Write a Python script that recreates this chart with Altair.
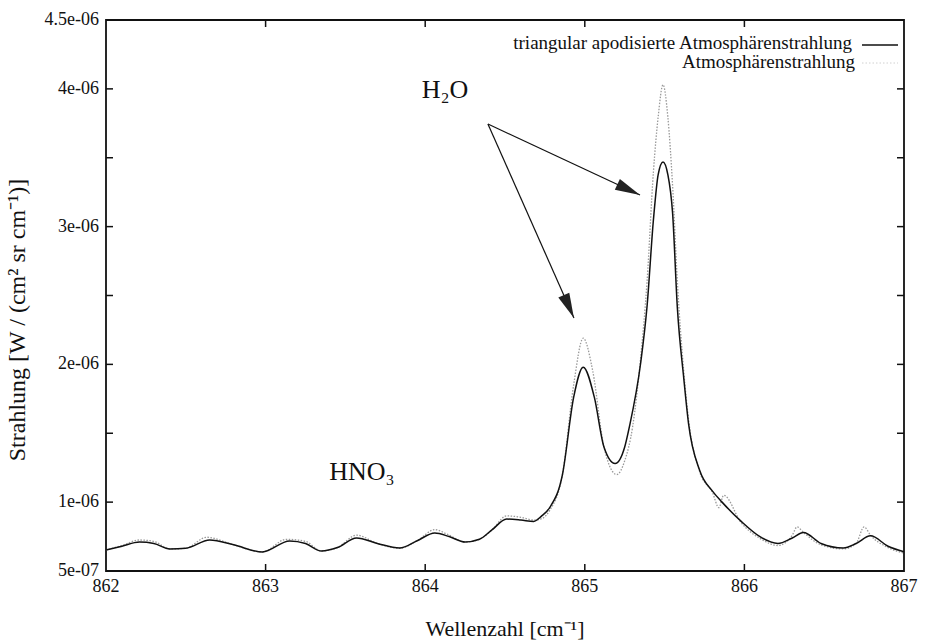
import altair as alt
import pandas as pd

# ---------------- data (radiance in units of 1e-6 W/(cm2 sr cm-1)) ----------------
wn_apod = [862.00, 862.10, 862.21, 862.30, 862.40, 862.50, 862.65, 862.80, 862.98,
           863.15, 863.25, 863.35, 863.45, 863.57, 863.70, 863.84, 863.95, 864.06,
           864.15, 864.25, 864.34, 864.42, 864.51, 864.60, 864.68, 864.73, 864.78,
           864.86, 864.93, 864.99, 865.06, 865.12, 865.19, 865.25, 865.28, 865.35,
           865.39, 865.43, 865.46, 865.49, 865.52, 865.55, 865.58, 865.62, 865.65,
           865.72, 865.80, 865.86, 865.98, 866.10, 866.21, 866.30, 866.37, 866.48,
           866.62, 866.70, 866.79, 866.90, 867.00]
rad_apod = [0.652, 0.68, 0.71, 0.70, 0.66, 0.665, 0.725, 0.69, 0.638,
            0.718, 0.70, 0.645, 0.67, 0.74, 0.70, 0.667, 0.72, 0.776,
            0.75, 0.71, 0.73, 0.80, 0.877, 0.87, 0.86, 0.90, 0.96,
            1.20, 1.76, 1.98, 1.76, 1.40, 1.28, 1.40, 1.55, 2.01,
            2.42, 3.05, 3.38, 3.47, 3.38, 3.10, 2.41, 1.90, 1.57,
            1.23, 1.08, 1.00, 0.86, 0.747, 0.70, 0.74, 0.78, 0.70,
            0.667, 0.70, 0.755, 0.68, 0.64]

wn_orig = [862.00, 862.10, 862.21, 862.30, 862.40, 862.50, 862.63, 862.80, 862.98,
           863.13, 863.25, 863.35, 863.45, 863.57, 863.70, 863.84, 863.95, 864.06,
           864.15, 864.25, 864.34, 864.42, 864.51, 864.60, 864.68, 864.73, 864.78,
           864.86, 864.93, 864.99, 865.05, 865.12, 865.20, 865.25, 865.30, 865.35,
           865.39, 865.43, 865.46, 865.49, 865.52, 865.55, 865.58, 865.62, 865.65,
           865.72, 865.80, 865.84, 865.87, 865.98, 866.10, 866.21, 866.30, 866.33,
           866.37, 866.48, 866.62, 866.70, 866.75, 866.79, 866.90, 867.00]
rad_orig = [0.652, 0.685, 0.725, 0.715, 0.66, 0.665, 0.745, 0.69, 0.638,
            0.73, 0.715, 0.645, 0.67, 0.76, 0.70, 0.665, 0.72, 0.80,
            0.76, 0.71, 0.73, 0.80, 0.90, 0.89, 0.87, 0.88, 0.94,
            1.20, 1.85, 2.19, 1.95, 1.40, 1.20, 1.30, 1.55, 2.05,
            2.60, 3.40, 3.80, 4.03, 3.80, 3.30, 2.60, 1.95, 1.60,
            1.22, 1.07, 0.96, 1.05, 0.85, 0.735, 0.685, 0.76, 0.82,
            0.78, 0.69, 0.66, 0.70, 0.82, 0.76, 0.67, 0.63]

x_ticks = [862, 863, 864, 865, 866, 867]
x_tick_labels = ["862", "863", "864", "865", "866", "867"]
y_ticks = [5e-7, 1e-6, 1.5e-6, 2e-6, 2.5e-6, 3e-6, 3.5e-6, 4e-6, 4.5e-6]
y_label_values = [5e-7, 1e-6, 2e-6, 3e-6, 4e-6, 4.5e-6]
y_label_texts = ["5e-07", "1e-06", "2e-06", "3e-06", "4e-06", "4.5e-06"]

x_title = "Wellenzahl [cm⁻¹]"
y_title = "Strahlung [W / (cm² sr cm⁻¹)]"
legend_labels = ["triangular apodisierte Atmosphärenstrahlung", "Atmosphärenstrahlung"]

# annotations: label positions and arrows (data coordinates)
ann_labels = ["H₂O", "HNO₃"]
ann_x = [864.124, 863.604]
ann_y = [3.934e-6, 1.16e-6]
arrow_x0 = [864.393, 864.393]
arrow_y0 = [3.745e-6, 3.745e-6]
arrow_x1 = [865.346, 864.932]
arrow_y1 = [3.23e-6, 2.337e-6]
arrow_angle = [115, 156]

# ---------------- build tables ----------------
df_apod = pd.DataFrame({"wn": wn_apod, "rad": [v * 1e-6 for v in rad_apod]})
df_orig = pd.DataFrame({"wn": wn_orig, "rad": [v * 1e-6 for v in rad_orig]})
df_xt = pd.DataFrame({"wn": x_ticks[1:-1]})
df_yt = pd.DataFrame({"rad": y_ticks[1:-1]})
df_xl = pd.DataFrame({"wn": x_ticks, "lab": x_tick_labels})
df_yl = pd.DataFrame({"rad": y_label_values, "lab": y_label_texts})
df_ann = pd.DataFrame({"wn": ann_x, "rad": ann_y, "label": ann_labels})
df_arr = pd.DataFrame({"wn": arrow_x0, "rad": arrow_y0, "wn2": arrow_x1,
                       "rad2": arrow_y1, "ang": arrow_angle})

FONT = "Liberation Serif"
INK = "#111"
W, H = 798, 551

xscale = alt.Scale(domain=[862, 867], nice=False, zero=False)
yscale = alt.Scale(domain=[5e-7, 4.5e-6], nice=False, zero=False)


def xe(field):
    return alt.X(field, type="quantitative", scale=xscale, axis=None)


def ye(field):
    return alt.Y(field, type="quantitative", scale=yscale, axis=None)


orig = alt.Chart(df_orig).mark_line(
    color="#9a9a9a", strokeWidth=1.3, strokeDash=[1.5, 1.5], interpolate="monotone"
).encode(x=xe("wn"), y=ye("rad"))

apod = alt.Chart(df_apod).mark_line(
    color=INK, strokeWidth=1.5, interpolate="monotone"
).encode(x=xe("wn"), y=ye("rad"))

# inward ticks (bottom/top/left/right)
tb = alt.Chart(df_xt).mark_rule(color=INK, strokeWidth=1.5).encode(
    x=xe("wn"), y=alt.value(H), y2=alt.value(H - 7))
tt = alt.Chart(df_xt).mark_rule(color=INK, strokeWidth=1.5).encode(
    x=xe("wn"), y=alt.value(0), y2=alt.value(7))
tl = alt.Chart(df_yt).mark_rule(color=INK, strokeWidth=1.5).encode(
    y=ye("rad"), x=alt.value(0), x2=alt.value(7))
tr = alt.Chart(df_yt).mark_rule(color=INK, strokeWidth=1.5).encode(
    y=ye("rad"), x=alt.value(W), x2=alt.value(W - 7))

# tick labels
xl = alt.Chart(df_xl).mark_text(
    font=FONT, fontSize=18, color=INK, align="center", baseline="top"
).encode(x=xe("wn"), y=alt.value(H + 7), text="lab:N")
yl = alt.Chart(df_yl).mark_text(
    font=FONT, fontSize=18, color=INK, align="right", baseline="middle"
).encode(y=ye("rad"), x=alt.value(-7), text="lab:N")

# axis titles
xt = alt.Chart(pd.DataFrame({"t": [x_title]})).mark_text(
    font=FONT, fontSize=22, color=INK, align="center", baseline="middle"
).encode(x=alt.value(W / 2), y=alt.value(H + 58), text="t:N")
yt = alt.Chart(pd.DataFrame({"t": [y_title]})).mark_text(
    font=FONT, fontSize=24, color=INK, align="center", baseline="middle", angle=270
).encode(x=alt.value(-88), y=alt.value(300), text="t:N")

# annotations
ann = alt.Chart(df_ann).mark_text(
    font=FONT, fontSize=26, color=INK, align="center", baseline="alphabetic"
).encode(x=xe("wn"), y=ye("rad"), text="label:N")

arrow_lines = alt.Chart(df_arr).mark_rule(color=INK, strokeWidth=1.2).encode(
    x=xe("wn"), y=ye("rad"), x2="wn2:Q", y2="rad2:Q")
arrow_heads = alt.Chart(df_arr).mark_point(
    shape="M0,0 L0.24,1 L-0.24,1 Z", filled=True, size=2500, color="#222", opacity=1
).encode(x=xe("wn2"), y=ye("rad2"), angle=alt.Angle("ang:Q", scale=None))

# legend (gnuplot style, top right)
leg1 = alt.Chart(pd.DataFrame({"t": [legend_labels[0]]})).mark_text(
    font=FONT, fontSize=19, color=INK, align="right", baseline="middle"
).encode(x=alt.value(746), y=alt.value(23), text="t:N")
leg2 = alt.Chart(pd.DataFrame({"t": [legend_labels[1]]})).mark_text(
    font=FONT, fontSize=19, color=INK, align="right", baseline="middle"
).encode(x=alt.value(749), y=alt.value(42), text="t:N")
legl1 = alt.Chart(pd.DataFrame({"t": [0]})).mark_rule(color=INK, strokeWidth=1.3).encode(
    x=alt.value(756), x2=alt.value(792), y=alt.value(25))
legl2 = alt.Chart(pd.DataFrame({"t": [0]})).mark_rule(
    color="#d0d0d0", strokeWidth=1.0, strokeDash=[1.5, 2]).encode(
    x=alt.value(756), x2=alt.value(792), y=alt.value(43))

chart = alt.layer(
    orig, apod, tb, tt, tl, tr, xl, yl, xt, yt,
    arrow_lines, arrow_heads, ann, leg1, leg2, legl1, legl2
).properties(
    width=W, height=H,
    autosize=alt.AutoSizeParams(type="none"),
    padding={"left": 106, "top": 20, "right": 25, "bottom": 73},
).configure(
    background="white"
).configure_view(
    stroke=INK, strokeWidth=1.8
)

chart.save("out.html", embed_options={"renderer": "svg", "actions": False})
